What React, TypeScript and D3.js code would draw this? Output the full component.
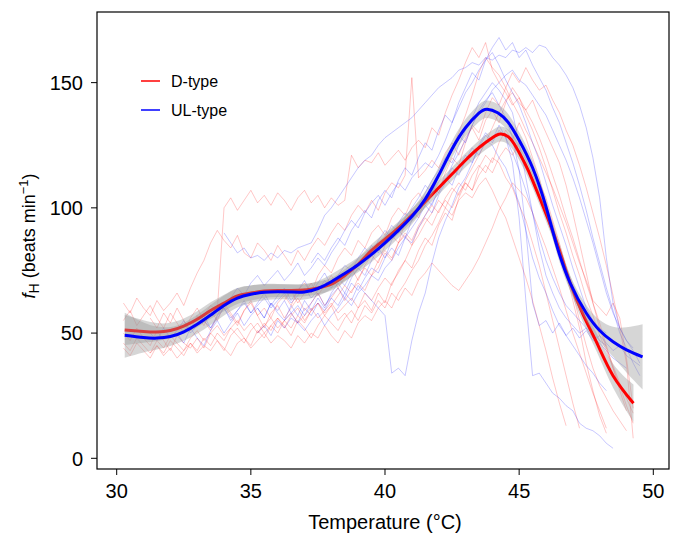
import React from "react";
import * as d3 from "d3";

// ---------- axes ----------
const X_TICKS = [30, 35, 40, 45, 50];
const Y_TICKS = [0, 50, 100, 150];
const X_DOMAIN: [number, number] = [29.266, 50.585];
const Y_DOMAIN: [number, number] = [-4.27, 178.2];
const SERIES_NAMES = ["D-type", "UL-type"];

// ---------- individual traces (fH sampled every 0.25 °C from start) ----------
const TRACE_STEP = 0.25;

const D_STARTS = [30.25, 30.25, 33.25, 30.25, 31.25, 35.25, 30.25, 30.25, 31.25, 36.25];
const D1 = [46,43,48,45, 42,47,44,49, 46,43,48,51, 47,50,53,49, 52,55,51,54, 50,53,56,52, 55,58,54,57, 60,56,59,62, 58,61,64,60, 66,63,68,72, 69,75,79,76, 83,88,85,93, 98,95,104,110, 107,116,121,118, 126,131,127,134, 128,120,112,101, 94,82,74,63, 52,38,27,17, 10];
const D2 = [62,58,64,60, 57,63,59,62, 66,61,68,74, 79,86,91,87, 84,89,82,80, 86,83,79,85, 81,77,83,79, 84,88,85,90, 94,91,97,101, 98,103,99,106, 110,108,113,152, 112,115,119,116, 122,126,121,128, 132,127,135,139, 134,142,148,144, 137,131,124,116, 107,98,90,81, 73,64,57,49, 43,36,29,21, 14];
const D3 = [57,61,59,100, 104,99,103,107, 102,105,101,106, 103,99,104,107, 102,105,100,104, 101,103,121,116, 119,118,122,117, 120,123,119,124, 127,124,132,129, 138,145,151,158, 164,160,166,155, 150,146,141,144, 139,143,136,130, 124,118,109,98, 86,74,62,52, 44,37,30,24, 18];
const D4 = [44,41,46,43, 40,45,42,47, 44,41,46,43, 48,45,50,47, 52,49,46,51, 54,50,53,56, 52,57,60,55, 59,62,57,61, 55,58,54,60, 63,59,66,62, 70,74,79,85, 89,94,98,103, 100,106,110,107, 113,117,114,120, 118,112,108,101, 95,86,77,66, 55,44,33,22, 12];
const D5 = [56,52,58,54, 60,55,51,57, 53,59,55,61, 57,53,59,62, 57,60,56,62, 65,61,67,70, 66,73,77,74, 80,84,81,87, 84,90,93,89, 96,100,97,103, 106,102,108,113, 118,124,130,137, 145,154,160,156, 153,148,142,137, 131,126,120,114, 108,101,94,86, 78,71,63,60, 57,62,56,40, 20];
const D6 = [50,54,51,56, 53,49,55,52, 48,53,57,54, 51,56,59,55, 61,58,63,60, 66,63,68,65, 71,74,78,75, 72,69,67,71, 75,80,86,92, 99,104,110,107, 104,98,91,84, 76,68,59,50, 42,34,26,19, 12];
const D7 = [55,59,53,57, 61,56,52,58, 54,50,56,60, 55,51,57,62, 58,54,59,63, 57,52,58,61, 56,60,64,59, 62,66,61,64, 68,63,67,70, 67,73,76,82, 79,86,89,85, 92,96,93,99, 103,100,106,110, 107,113,117,114, 120,124,121,126, 122,117,110,104, 95,86,76,66, 55,45,36,29, 24,19,15,11];
const D8 = [50,47,52,48, 45,51,47,43, 49,46,44,48, 44,50,47,43, 49,52,48,45, 51,48,53,50, 55,52,57,54, 59,62,58,61, 65,69,66,72, 76,73,79,83, 80,86,90,87, 93,97,101,98, 104,108,105,111, 116,121,126,132, 138,143,146,142, 139,134,128,121, 113,105,96,88, 79,70,62,54, 45,36,27,19];
const D9 = [42,45,41,44, 40,43,46,42, 45,43,47,44, 41,46,48,44, 47,50,46,49, 47,44,49,46, 50,48,53,49, 46,51,48,54, 57,55,60,63, 60,66,70,75, 79,85,89,94, 100,97,103,106, 104,109,112,107, 101,96,88,80, 72,63,53,43, 32,22,13];
const D10 = [63,67,62,66, 70,65,69,73, 68,72,76,71, 77,81,78,85, 89,86,94,99, 96,104,109,106, 114,120,117,126, 133,130,138,144, 141,148,154,150, 156,151,147,149, 143,138,131,125, 117,108,98,88, 77,65,52,38, 8];
const D_TRACES = [D1, D2, D3, D4, D5, D6, D7, D8, D9, D10];

const UL_STARTS = [31.25, 34.0, 36.25, 35.25, 37.25, 33.25, 35.25, 32.25, 34.25];
const U1 = [50,47,52,48, 51,55,50,53, 57,52,56,60, 55,59,63,58, 62,66,61,65, 68,63,67,71, 66,70,74,69, 73,77,75,80, 84,81,87,91, 88,94,98,95, 101,106,111,115, 120,118,125,131, 136,142,146,150, 147,143,138,126, 112,98,84,73, 66,60,56,53, 50,52,48,46, 43,40,38,36];
const U2 = [90, 86,82,84,80, 81,79,82,80, 83,82,84,85, 86,91,97,100, 104,108,112,116, 119,121,125,128, 130,132,134,136, 139,142,145,148, 150,152,155,156, 158,157,160,159, 161,160,163,162, 164,162,165,164, 160,157,153,148, 141,132,120,104, 80,62,52,47, 43,38];
const U3 = [55,58,54,60, 57,62,59,64, 61,66,63,69, 66,63,60,57, 34,36,33,47, 58,66,78,88, 95,101,108,112, 118,124,129,126, 131,128,122,115, 107,98,88,79, 72,66,61,58, 55,52,50,47, 45];
const U4 = [60,56,62,58, 55,61,57,63, 59,64,60,66, 70,66,72,76, 73,79,84,80, 87,91,88,95, 99,104,101,108, 112,109,116,121, 118,125,130,127, 133,128,118,96, 63,33,34,30, 26,24,21,19, 14,12,11,9, 6,4];
const U5 = [78,82,79,84, 88,85,91,95, 99,96,103,107, 104,111,116,113, 120,126,123,131, 137,134,142,148, 154,151,159,164, 168,163,166,160, 163,157,152,147, 140,134,126,118, 109,99,88,78, 68,59,50,44, 38,33];
const U6 = [55,52,57,60, 56,59,62,58, 61,64,60,63, 66,62,65,68, 64,67,71,68, 72,69,74,77, 80,85,82,88, 93,90,96,100, 104,109,106,113, 118,124,129,126, 133,139,143,146, 141,136,128,115, 91,62,53,55, 50,54,49,52, 48,51,47,49, 46,43,45,41, 39,37];
const U7 = [50,53,49,55, 52,56,54,51, 55,58,53,57, 60,64,61,66, 69,73,71,76, 79,84,88,86, 92,97,102,106, 111,117,122,127, 133,138,142,147, 150,153,155,151, 149,145,141,137, 131,125,119,112, 104,95,86,76, 66,58,52,47, 44];
const U8 = [50,46,52,48, 45,51,55,50, 54,58,53,57, 60,56,62,59, 63,58,61,57, 62,66,61,65, 68,64,70,67, 72,76,74,80, 84,81,88,92, 96,101,98,105, 110,116,113,119, 124,121,127,125, 120,116,109,102, 91,80,72,66, 59,53,49,45, 41,37,34,30, 27];
const U9 = [64,68,65,70, 73,69,72,75, 71,74,78,73, 76,80,77,82, 86,91,95,92, 98,102,105,101, 106,110,107,112, 115,118,116,121, 127,134,140,146, 150,155,159,162, 157,151,146,141, 134,126,119,110, 101,93,85,76, 68,60,55,52, 50];
const UL_TRACES = [U1, U2, U3, U4, U5, U6, U7, U8, U9];

// ---------- fitted smooths with standard-error half-widths ----------
const D_FIT_T = [30.3, 31, 31.5, 32, 32.5, 33, 33.5, 34, 34.5, 35, 35.5, 36, 36.5, 37, 37.5, 38, 38.5, 39, 39.5, 40, 40.5, 41, 41.5, 42, 42.5, 43, 43.5, 44, 44.3, 44.6, 44.9, 45.2, 45.5, 46.1, 46.5, 46.9, 47.4, 47.9, 48.5, 49.26];
const D_FIT = [51.2, 50.6, 50.4, 51, 52.8, 55.5, 59, 62, 64.8, 66, 66.8, 67, 67, 67.2, 68, 69.5, 73, 77.5, 83, 87.5, 92, 97, 102.5, 108, 113.5, 119, 124, 128, 129.5, 128.3, 124, 118, 111, 95, 83, 70, 57, 46, 33, 22];
const D_SE = [6, 4.5, 3.6, 3.1, 3, 3.2, 3.3, 3.3, 3.2, 3, 2.8, 2.6, 2.5, 2.5, 2.5, 2.5, 2.5, 2.5, 2.5, 2.5, 2.5, 2.6, 2.6, 2.7, 2.7, 2.8, 2.9, 3, 3, 3, 3, 3, 3, 3, 3, 3, 3.2, 3.7, 4.8, 7.5];

const UL_FIT_T = [30.3, 31, 31.5, 32, 32.5, 33, 33.5, 34, 34.5, 35, 35.5, 36, 36.5, 37, 37.5, 38, 38.5, 39, 39.5, 40, 40.5, 41, 41.5, 42, 42.5, 43, 43.5, 43.8, 44.2, 44.6, 45, 45.5, 46, 46.4, 46.9, 47.5, 48, 48.5, 49, 49.6];
const UL_FIT = [49.1, 48.2, 48.0, 48.6, 50.5, 53.5, 57.2, 61, 64, 65.5, 66.3, 66.5, 66.4, 66.4, 67.8, 70.5, 73.8, 77.3, 81.4, 86, 91, 96.5, 103.5, 113, 123.5, 132, 137.8, 139.4, 138, 134, 127, 116, 100.5, 85, 70, 58, 51, 46.5, 43.3, 40.5];
const UL_SE = [9, 6, 4.6, 3.8, 3.6, 3.8, 4, 4, 3.8, 3.5, 3.2, 3, 3, 3, 3, 3, 3, 3, 3, 3, 3, 3, 3.1, 3.2, 3.3, 3.4, 3.5, 3.5, 3.5, 3.4, 3.3, 3.2, 3.1, 3, 3, 3.2, 4.2, 6, 9, 13];

const RED = "#ff0000";
const BLUE = "#0000ff";
const FONT = "'Liberation Sans', Arial, Helvetica, sans-serif";

export default function App() {
  const x = d3.scaleLinear().domain(X_DOMAIN).range([97, 669]);
  const y = d3.scaleLinear().domain(Y_DOMAIN).range([469, 12]);

  const traceLine = d3
    .line<[number, number]>()
    .x((d) => x(d[0]))
    .y((d) => y(d[1]));

  const toPts = (start: number, vals: number[]) =>
    vals.map((v, i) => [start + i * TRACE_STEP, v] as [number, number]);

  const smoothLine = d3
    .line<[number, number]>()
    .x((d) => x(d[0]))
    .y((d) => y(d[1]))
    .curve(d3.curveNatural);

  const band = d3
    .area<[number, number, number]>()
    .x((d) => x(d[0]))
    .y0((d) => y(d[1] - d[2]))
    .y1((d) => y(d[1] + d[2]))
    .curve(d3.curveNatural);

  const dFit = D_FIT_T.map((t, i) => [t, D_FIT[i]] as [number, number]);
  const ulFit = UL_FIT_T.map((t, i) => [t, UL_FIT[i]] as [number, number]);
  const dBand = D_FIT_T.map((t, i) => [t, D_FIT[i], D_SE[i]] as [number, number, number]);
  const ulBand = UL_FIT_T.map((t, i) => [t, UL_FIT[i], UL_SE[i]] as [number, number, number]);

  const [x0, x1] = x.range();
  const [yb, yt] = y.range();

  return (
    <svg
      width={675}
      height={536}
      style={{ position: "absolute", left: 0, top: 0, background: "#fff" }}
      fontFamily={FONT}
    >
      <rect x={0} y={0} width={675} height={536} fill="#fff" />
      <defs>
        <clipPath id="plotclip">
          <rect x={x0} y={yt} width={x1 - x0} height={yb - yt} />
        </clipPath>
      </defs>
      <g clipPath="url(#plotclip)">
        {D_TRACES.map((vals, i) => (
          <path
            key={"d" + i}
            d={traceLine(toPts(D_STARTS[i], vals)) || ""}
            fill="none"
            stroke={RED}
            strokeOpacity={0.22}
            strokeWidth={1}
          />
        ))}
        {UL_TRACES.map((vals, i) => (
          <path
            key={"u" + i}
            d={traceLine(toPts(UL_STARTS[i], vals)) || ""}
            fill="none"
            stroke={BLUE}
            strokeOpacity={0.22}
            strokeWidth={1}
          />
        ))}
        <path d={band(dBand) || ""} fill="#999999" fillOpacity={0.4} />
        <path d={smoothLine(dFit) || ""} fill="none" stroke={RED} strokeWidth={3} />
        <path d={band(ulBand) || ""} fill="#999999" fillOpacity={0.4} />
        <path d={smoothLine(ulFit) || ""} fill="none" stroke={BLUE} strokeWidth={3} />
      </g>

      {/* frame */}
      <rect x={x0} y={yt} width={x1 - x0} height={yb - yt} fill="none" stroke="#000" strokeWidth={1.2} />

      {/* x axis */}
      {X_TICKS.map((t) => (
        <g key={"xt" + t}>
          <line x1={x(t)} x2={x(t)} y1={yb} y2={yb + 6} stroke="#000" strokeWidth={1} />
          <text x={x(t)} y={498} textAnchor="middle" fontSize={20} fill="#000">
            {t}
          </text>
        </g>
      ))}
      <text x={(x(30) + x(50)) / 2} y={529} textAnchor="middle" fontSize={20} fill="#000">
        Temperature (°C)
      </text>

      {/* y axis */}
      {Y_TICKS.map((t) => (
        <g key={"yt" + t}>
          <line x1={x0 - 6} x2={x0} y1={y(t)} y2={y(t)} stroke="#000" strokeWidth={1} />
          <text x={83} y={y(t)} dy="0.36em" textAnchor="end" fontSize={20} fill="#000">
            {t}
          </text>
        </g>
      ))}
      <text transform="translate(35, 236) rotate(-90)" textAnchor="middle" fontSize={18} fill="#000">
        <tspan fontStyle="italic">f</tspan>
        <tspan fontSize={14} dy={4}>H</tspan>
        <tspan dy={-4}> (beats min</tspan>
        <tspan fontSize={13} dy={-7}>−1</tspan>
        <tspan dy={7}>)</tspan>
      </text>

      {/* legend */}
      {SERIES_NAMES.map((name, i) => (
        <g key={name}>
          <line x1={141} x2={160} y1={81 + i * 29} y2={81 + i * 29} stroke={i === 0 ? RED : BLUE} strokeWidth={1.5} />
          <text x={171} y={81 + i * 29} dy="0.36em" fontSize={16} fill="#000">
            {name}
          </text>
        </g>
      ))}
    </svg>
  );
}
